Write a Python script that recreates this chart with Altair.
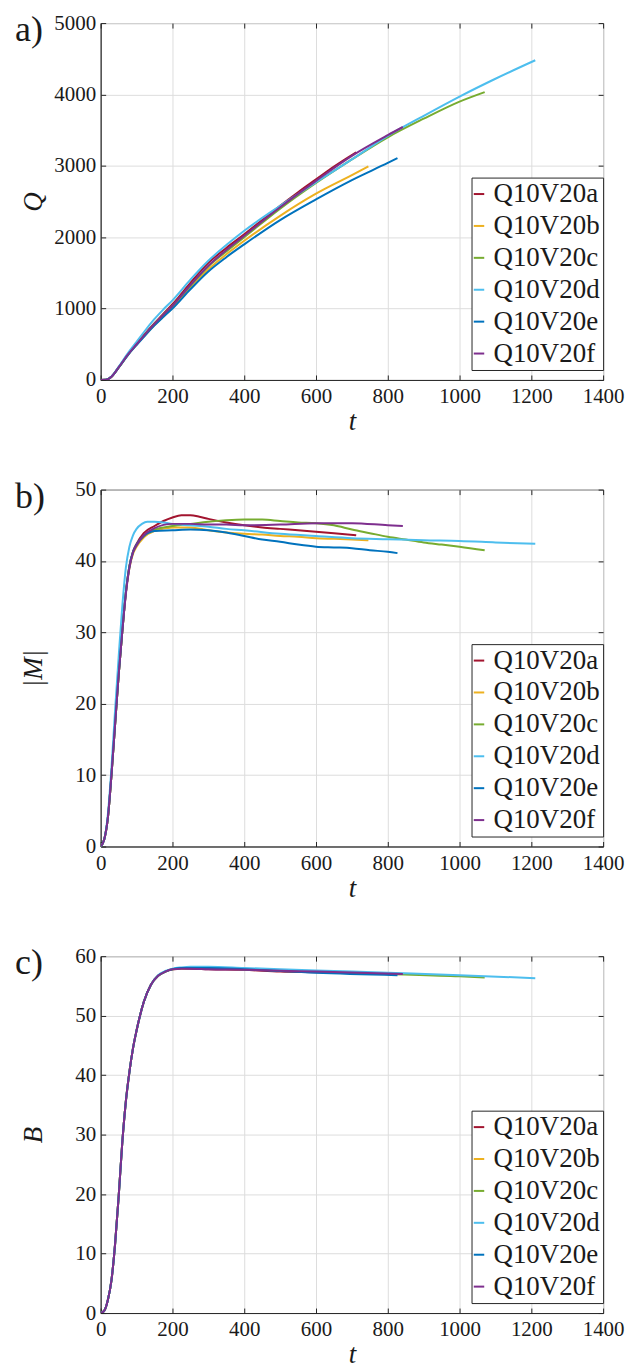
import altair as alt
import pandas as pd

SERIES = ["Q10V20a", "Q10V20b", "Q10V20c", "Q10V20d", "Q10V20e", "Q10V20f"]
COLORS = ["#A2142F", "#EDB120", "#77AC30", "#4DBEEE", "#0072BD", "#7E2F8E"]
T_TICKS = [0, 200, 400, 600, 800, 1000, 1200, 1400]
Q_TICKS = [0, 1000, 2000, 3000, 4000, 5000]
M_TICKS = [0, 10, 20, 30, 40, 50]
B_TICKS = [0, 10, 20, 30, 40, 50, 60]

# ---- panel a: Q(t) ----
QA_T = [0, 15, 30, 50, 75, 100, 125, 150, 175, 200, 250, 300, 350, 400, 450, 500, 550, 600, 650, 712]
QA_V = [0, 3, 45, 175, 350, 505, 655, 795, 930, 1060, 1360, 1640, 1850, 2040, 2240, 2440, 2630, 2810, 2990, 3190]
QB_T = [0, 15, 30, 50, 75, 100, 125, 150, 175, 200, 250, 300, 350, 400, 500, 600, 700, 746]
QB_V = [0, 3, 45, 172, 345, 495, 635, 770, 890, 1010, 1290, 1550, 1760, 1950, 2300, 2610, 2870, 2991]
QC_T = [0, 15, 30, 50, 75, 100, 125, 150, 175, 200, 250, 300, 350, 400, 500, 600, 700, 800, 900, 1000, 1070]
QC_V = [0, 3, 45, 175, 350, 500, 645, 785, 915, 1040, 1320, 1590, 1800, 2000, 2400, 2760, 3090, 3400, 3660, 3900, 4033]
QD_T = [0, 15, 30, 50, 75, 100, 125, 150, 175, 200, 250, 300, 350, 400, 500, 600, 700, 800, 900, 1000, 1100, 1211]
QD_V = [0, 3, 48, 185, 370, 535, 700, 855, 990, 1115, 1405, 1670, 1890, 2090, 2440, 2770, 3090, 3420, 3700, 3970, 4220, 4479]
QE_T = [0, 15, 30, 50, 75, 100, 125, 150, 175, 200, 250, 300, 350, 400, 500, 600, 700, 800, 827]
QE_V = [0, 3, 45, 172, 342, 490, 630, 765, 885, 1000, 1270, 1520, 1720, 1900, 2240, 2530, 2800, 3040, 3107]
QF_T = [0, 15, 30, 50, 75, 100, 125, 150, 175, 200, 250, 300, 350, 400, 500, 600, 700, 800, 842]
QF_V = [0, 3, 45, 175, 350, 500, 645, 785, 915, 1040, 1330, 1600, 1820, 2020, 2420, 2790, 3140, 3430, 3544]

# ---- panel b: |M|(t) ----
MA_T = [0, 10, 20, 30, 40, 50, 60, 70, 80, 90, 100, 120, 150, 175, 200, 225, 250, 275, 300, 350, 400, 450, 500, 550, 600, 650, 712]
MA_V = [0, 1, 4, 10, 17, 24, 30, 35.5, 39.3, 41.3, 42.4, 43.9, 44.9, 45.6, 46.1, 46.4, 46.4, 46.2, 45.9, 45.4, 45.0, 44.7, 44.5, 44.3, 44.1, 43.9, 43.6]
MB_T = [0, 10, 20, 30, 40, 50, 60, 70, 80, 90, 100, 120, 150, 200, 250, 300, 350, 400, 450, 500, 550, 600, 650, 700, 746]
MB_V = [0, 1, 4, 10, 17, 24, 30, 35.5, 39.0, 41.0, 42.0, 43.3, 44.2, 44.7, 44.7, 44.3, 44.0, 43.8, 43.7, 43.5, 43.4, 43.2, 43.1, 43.0, 42.9]
MC_T = [0, 10, 20, 30, 40, 50, 60, 70, 80, 90, 100, 120, 150, 200, 250, 300, 350, 400, 450, 500, 550, 600, 650, 700, 750, 800, 850, 900, 950, 1000, 1070]
MC_V = [0, 1, 4, 10, 17, 24, 30, 35.5, 39.2, 41.2, 42.2, 43.5, 44.4, 44.9, 45.2, 45.5, 45.7, 45.8, 45.8, 45.6, 45.4, 45.3, 45.0, 44.4, 43.9, 43.4, 43.0, 42.6, 42.3, 42.0, 41.5]
MD_T = [0, 10, 20, 30, 40, 50, 60, 70, 80, 90, 100, 115, 130, 150, 175, 200, 250, 300, 350, 400, 500, 600, 700, 800, 900, 1000, 1100, 1211]
MD_V = [0, 1, 4.5, 11, 19, 26.5, 33.5, 39.0, 42.0, 43.6, 44.5, 45.2, 45.5, 45.5, 45.4, 45.2, 45.0, 44.8, 44.5, 44.3, 43.8, 43.5, 43.2, 43.05, 42.9, 42.8, 42.6, 42.4]
ME_T = [0, 10, 20, 30, 40, 50, 60, 70, 80, 90, 100, 120, 150, 200, 250, 300, 350, 400, 450, 500, 550, 600, 650, 700, 750, 800, 827]
ME_V = [0, 1, 4, 10, 17, 24, 30, 35.5, 39.2, 41.3, 42.3, 43.5, 44.2, 44.3, 44.4, 44.3, 44.0, 43.5, 43.0, 42.7, 42.3, 42.0, 41.9, 41.8, 41.5, 41.3, 41.1]
MF_T = [0, 10, 20, 30, 40, 50, 60, 70, 80, 90, 100, 120, 150, 200, 250, 300, 350, 400, 500, 600, 700, 800, 842]
MF_V = [0, 1, 4, 10, 17, 24, 30, 35.3, 39.0, 41.2, 42.2, 43.6, 44.6, 45.2, 45.2, 45.1, 45.1, 45.0, 45.1, 45.3, 45.3, 45.0, 44.9]

# ---- panel c: B(t) ----
BA_T = [0, 10, 20, 30, 40, 50, 60, 70, 80, 90, 100, 120, 140, 160, 180, 200, 225, 250, 300, 400, 500, 600, 712]
BA_V = [0, 0.4, 2.2, 5.5, 11.5, 19.5, 28.5, 35.5, 40.5, 44.5, 47.5, 52.3, 55.2, 56.7, 57.4, 57.8, 57.9, 57.9, 57.8, 57.7, 57.4, 57.3, 57.2]
BB_T = [0, 10, 20, 30, 40, 50, 60, 70, 80, 90, 100, 120, 140, 160, 180, 200, 225, 250, 300, 400, 500, 600, 746]
BB_V = [0, 0.4, 2.2, 5.5, 11.5, 19.5, 28.5, 35.5, 40.5, 44.5, 47.5, 52.3, 55.2, 56.7, 57.4, 57.8, 57.9, 58.0, 57.9, 57.8, 57.6, 57.4, 57.1]
BC_T = [0, 10, 20, 30, 40, 50, 60, 70, 80, 90, 100, 120, 140, 160, 180, 200, 225, 250, 300, 400, 600, 800, 1000, 1070]
BC_V = [0, 0.4, 2.2, 5.5, 11.5, 19.5, 28.5, 35.5, 40.5, 44.5, 47.5, 52.3, 55.2, 56.7, 57.4, 57.8, 58.0, 58.0, 58.0, 57.8, 57.4, 57.0, 56.6, 56.4]
BD_T = [0, 10, 20, 30, 40, 50, 60, 70, 80, 90, 100, 120, 140, 160, 180, 200, 225, 250, 300, 400, 600, 800, 1000, 1211]
BD_V = [0, 0.4, 2.2, 5.5, 11.5, 19.5, 28.5, 35.5, 40.5, 44.5, 47.5, 52.3, 55.2, 56.8, 57.5, 57.9, 58.1, 58.2, 58.2, 58.0, 57.6, 57.2, 56.8, 56.3]
BE_T = [0, 10, 20, 30, 40, 50, 60, 70, 80, 90, 100, 120, 140, 160, 180, 200, 225, 250, 300, 400, 600, 827]
BE_V = [0, 0.4, 2.2, 5.5, 11.5, 19.5, 28.5, 35.5, 40.5, 44.5, 47.5, 52.3, 55.2, 56.7, 57.4, 57.8, 58.0, 58.0, 58.0, 57.8, 57.2, 56.8]
BF_T = [0, 10, 20, 30, 40, 50, 60, 70, 80, 90, 100, 120, 140, 160, 180, 200, 225, 250, 300, 400, 600, 842]
BF_V = [0, 0.4, 2.2, 5.5, 11.5, 19.5, 28.5, 35.5, 40.5, 44.5, 47.5, 52.3, 55.2, 56.7, 57.4, 57.8, 57.9, 57.9, 57.8, 57.7, 57.4, 57.0]

FONT = "Liberation Serif, DejaVu Serif, serif"
INK = "#1a1a1a"
W, H = 504, 358


def build(pairs):
    rows = []
    for name, ts, vs in zip(SERIES, pairs[0::2], pairs[1::2]):
        for t, v in zip(ts, vs):
            rows.append({"s": name, "t": t, "v": v})
    return pd.DataFrame(rows)


def tick_axis(orient, vals):
    return alt.Axis(orient=orient, values=vals, labels=False, domain=False, grid=False,
                    ticks=True, tickSize=5, offset=-5, tickColor="#262626", tickWidth=1, title=None)


def panel(df, ytitle, ydom, yticks, label, top_spacer=False, bottom_spacer=False):
    xs = alt.Scale(domain=[0, 1400], nice=False, zero=False)
    ys = alt.Scale(domain=ydom, nice=False, zero=False)
    base = alt.Chart(df)
    lines = base.mark_line(strokeWidth=2, interpolate="monotone", clip=True).encode(
        x=alt.X("t:Q", scale=xs, axis=alt.Axis(
            values=T_TICKS, format="d", title="t", grid=True, ticks=False, domain=True,
            labelFlush=False, labelOverlap=False,
            domainColor="#262626", gridColor="#dddddd", labelFont=FONT, labelFontSize=21,
            labelColor=INK, labelPadding=6, titleFont=FONT, titleFontSize=27,
            titleFontStyle="italic", titleFontWeight="normal", titleColor=INK,
            titleY=50, titleBaseline="alphabetic")),
        y=alt.Y("v:Q", scale=ys, axis=alt.Axis(
            values=yticks, format="d", title=ytitle, grid=True, ticks=False, domain=True,
            labelFlush=False, labelOverlap=False,
            domainColor="#262626", gridColor="#dddddd", labelFont=FONT, labelFontSize=21,
            labelColor=INK, labelPadding=5, titleFont=FONT, titleFontSize=27,
            titleFontStyle="italic", titleFontWeight="normal", titleColor=INK,
            titleX=-67, titleY=H / 2, titleAngle=270, titleAlign="center",
            titleBaseline="middle")),
        color=alt.Color("s:N", scale=alt.Scale(domain=SERIES, range=COLORS), legend=alt.Legend(
            title=None, orient="none", legendX=372, legendY=155, direction="vertical",
            symbolType="stroke", symbolStrokeWidth=2, symbolSize=110, symbolOffset=-9,
            labelFont=FONT, labelFontSize=27, labelColor=INK, labelOffset=1, rowPadding=4,
            padding=3, strokeColor="#262626", fillColor="white", labelLimit=300)),
    )
    inner1 = base.mark_line(strokeOpacity=0).encode(
        x=alt.X("t:Q", scale=xs, axis=tick_axis("bottom", T_TICKS)),
        y=alt.Y("v:Q", scale=ys, axis=tick_axis("left", yticks)),
        detail="s:N",
    )
    inner2 = base.mark_line(strokeOpacity=0).encode(
        x=alt.X("t:Q", scale=xs, axis=tick_axis("top", T_TICKS)),
        y=alt.Y("v:Q", scale=ys, axis=tick_axis("right", yticks)),
        detail="s:N",
    )
    lab = alt.Chart(pd.DataFrame({"lab": [label]})).mark_text(
        font=FONT, fontSize=36, color=INK, align="left", baseline="alphabetic"
    ).encode(x=alt.value(-86), y=alt.value(18), text="lab:N")
    layers = [lines, inner1, inner2, lab]
    if top_spacer:
        layers.append(alt.Chart(pd.DataFrame({"k": [0]})).mark_rule(strokeOpacity=0, strokeWidth=0.1).encode(
            x=alt.value(-100), x2=alt.value(538), y=alt.value(-20)))
    if bottom_spacer:
        layers.append(alt.Chart(pd.DataFrame({"k": [0]})).mark_rule(strokeOpacity=0, strokeWidth=0.1).encode(
            x=alt.value(0), x2=alt.value(10), y=alt.value(H + 55)))
    return alt.layer(*layers).resolve_axis(x="independent", y="independent").properties(width=W, height=H)


dfa = build([QA_T, QA_V, QB_T, QB_V, QC_T, QC_V, QD_T, QD_V, QE_T, QE_V, QF_T, QF_V])
dfb = build([MA_T, MA_V, MB_T, MB_V, MC_T, MC_V, MD_T, MD_V, ME_T, ME_V, MF_T, MF_V])
dfc = build([BA_T, BA_V, BB_T, BB_V, BC_T, BC_V, BD_T, BD_V, BE_T, BE_V, BF_T, BF_V])

pa = panel(dfa, "Q", [0, 5000], Q_TICKS, "a)", top_spacer=True)
pb = panel(dfb, "|M|", [0, 50], M_TICKS, "b)")
pc = panel(dfc, "B", [0, 60], B_TICKS, "c)", bottom_spacer=True)

chart = alt.vconcat(pa, pb, pc, spacing=110, bounds="flush").resolve_scale(
    color="independent").resolve_legend(color="independent").properties(
    padding=0, background="white").configure_view(stroke="#262626", strokeWidth=1)

chart.save("out.html", embed_options={"renderer": "svg", "actions": False})
